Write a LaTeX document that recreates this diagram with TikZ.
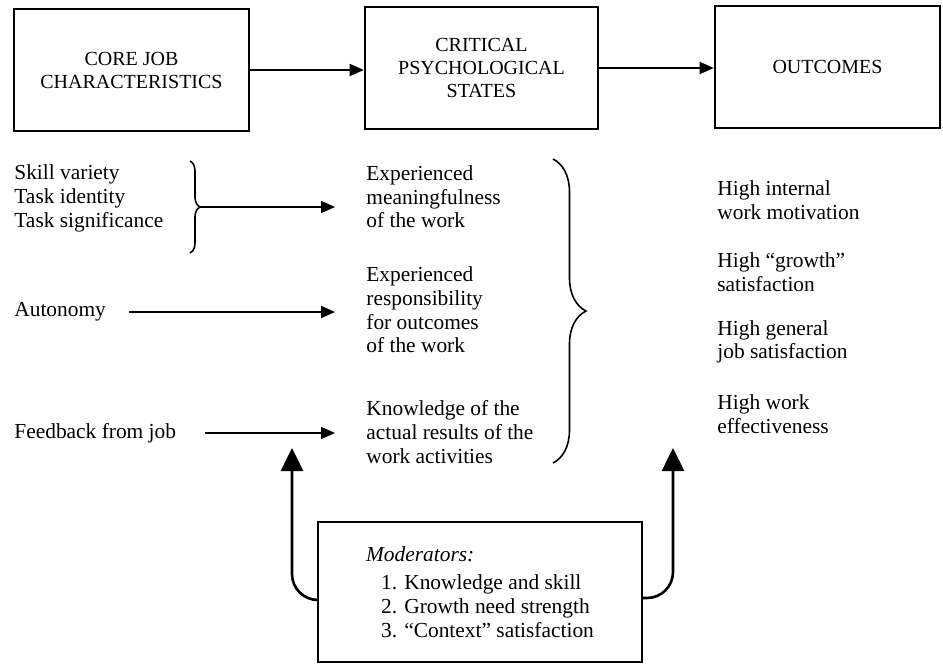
\documentclass[tikz,border=0pt]{standalone}
\usepackage{fontspec}
\setmainfont{Liberation Serif}
\usetikzlibrary{arrows.meta,decorations.pathreplacing}

\begin{document}
\begin{tikzpicture}[x=0.5pt,y=-0.5pt,
  headbox/.style={draw, line width=1.3pt, inner sep=0pt, align=center,
    font=\fontsize{10}{11.5}\selectfont},
  txt/.style={anchor=west, align=left, inner sep=0pt,
    font=\fontsize{10.7}{11.8}\selectfont},
  arr/.style={-{Triangle[length=7pt,width=6pt]}, line width=0.9pt},
  thinarr/.style={-{Triangle[length=7pt,width=6pt]}, line width=0.8pt},
  bigarr/.style={-{Triangle[length=11.5pt,width=11pt]}, line width=1.3pt},
  brc/.style={decorate, line width=0.8pt},
  modbox/.style={draw, line width=1.2pt, inner sep=0pt, align=left,
    minimum width=162pt, minimum height=70pt,
    font=\fontsize{10.7}{11.8}\selectfont}]

\useasboundingbox (0,0) rectangle (943,664);

% header boxes
\node[headbox, minimum width=117.5pt, minimum height=61pt] (core) at (131.5,70)
  {CORE JOB\\CHARACTERISTICS};
\node[headbox, minimum width=116.5pt, minimum height=61pt] (cps) at (481.5,68)
  {CRITICAL\\PSYCHOLOGICAL\\STATES};
\node[headbox, minimum width=112.5pt, minimum height=61pt] (out) at (827.5,67)
  {OUTCOMES};

\draw[arr] (core.east) -- (core.east -| cps.west);
\draw[arr] (cps.east) -- (cps.east -| out.west);

% core job characteristics
\node[txt, font=\fontsize{10.7}{12}\selectfont] (skills) at (14,198)
  {Skill variety\\Task identity\\Task significance};
\node[txt] (aut) at (14,312) {Autonomy};
\node[txt] (fb) at (14,433) {Feedback from job};

% critical psychological states
\node[txt] (m1) at (366,197) {Experienced\\meaningfulness\\of the work};
\node[txt] (m2) at (366,310) {Experienced\\responsibility\\for outcomes\\of the work};
\node[txt] (m3) at (366,432) {Knowledge of the\\actual results of the\\work activities};

% outcomes
\node[txt] (o1) at (717,200) {High internal\\work motivation};
\node[txt] (o2) at (717,272) {High “growth”\\satisfaction};
\node[txt] (o3) at (717,342) {High general\\job satisfaction};
\node[txt] (o4) at (717,414) {High work\\effectiveness};

% braces
\draw[brc, decoration={brace, amplitude=5pt}] (190,161) -- (190,253);
\coordinate (b1tip) at (200,207);
\draw[brc, decoration={brace, amplitude=16.5pt}] (553,159) -- (553,463);

% links from characteristics to states
\draw[thinarr, shorten >=15.5pt] (b1tip) -- (b1tip -| m1.west);
\draw[thinarr, shorten <=11.5pt, shorten >=15.5pt] (aut.east) -- (aut.east -| m2.west);
\draw[thinarr, shorten <=14.5pt, shorten >=15.5pt] (fb.east) -- (fb.east -| m3.west);

% moderators
\node[modbox] (mod) at (480,592)
  {\textit{Moderators:}\\[2.5pt]
   \hspace*{7.5pt}1. Knowledge and skill\\
   \hspace*{7.5pt}2. Growth need strength\\
   \hspace*{7.5pt}3. “Context” satisfaction};

\coordinate (modl) at (292,448);
\coordinate (modr) at (673,448);
\draw[bigarr, rounded corners=13pt] ([yshift=-4pt]mod.west) -| (modl);
\draw[bigarr, rounded corners=13pt] ([yshift=-3pt]mod.east) -| (modr);

\end{tikzpicture}
\end{document}
